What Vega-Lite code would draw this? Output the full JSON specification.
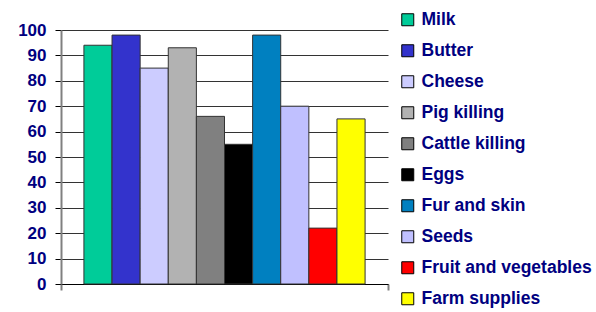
{
  "$schema": "https://vega.github.io/schema/vega-lite/v6.json",
  "autosize": "none",
  "width": 327,
  "height": 254,
  "padding": {"left": 61, "top": 30, "right": 208, "bottom": 28},
  "background": "white",
  "config": {
    "font": "Liberation Sans",
    "view": {"stroke": null}
  },
  "data": {
    "values": [
      {"group": "A", "category": "Milk", "value": 94},
      {"group": "A", "category": "Butter", "value": 98},
      {"group": "A", "category": "Cheese", "value": 85},
      {"group": "A", "category": "Pig killing", "value": 93},
      {"group": "A", "category": "Cattle killing", "value": 66},
      {"group": "A", "category": "Eggs", "value": 55},
      {"group": "A", "category": "Fur and skin", "value": 98},
      {"group": "A", "category": "Seeds", "value": 70},
      {"group": "A", "category": "Fruit and vegetables", "value": 22},
      {"group": "A", "category": "Farm supplies", "value": 65}
    ]
  },
  "mark": {"type": "bar", "stroke": "#333333", "strokeWidth": 1, "opacity": 1},
  "encoding": {
    "x": {
      "field": "group",
      "type": "nominal",
      "scale": {"paddingInner": 0, "paddingOuter": 0},
      "axis": {
        "title": null,
        "labels": false,
        "tickBand": "extent",
        "tickSize": 6,
        "tickColor": "#808080",
        "tickWidth": 2,
        "domainColor": "#000000",
        "domainWidth": 1
      }
    },
    "xOffset": {
      "field": "category",
      "type": "nominal",
      "sort": ["Milk", "Butter", "Cheese", "Pig killing", "Cattle killing", "Eggs", "Fur and skin", "Seeds", "Fruit and vegetables", "Farm supplies"],
      "scale": {"paddingInner": 0, "paddingOuter": 0.815}
    },
    "y": {
      "field": "value",
      "type": "quantitative",
      "scale": {"domain": [0, 100], "nice": false},
      "axis": {
        "title": null,
        "values": [0, 10, 20, 30, 40, 50, 60, 70, 80, 90, 100],
        "tickSize": 6,
        "tickColor": "#000000",
        "labelPadding": 9,
        "labelFont": "Liberation Sans",
        "labelFontWeight": "bold",
        "labelFontSize": 17,
        "labelColor": "#000080",
        "domainColor": "#808080",
        "domainWidth": 2,
        "grid": true,
        "gridColor": "#333333",
        "gridWidth": 1,
        "gridOpacity": 1
      }
    },
    "color": {
      "field": "category",
      "type": "nominal",
      "scale": {
        "domain": ["Milk", "Butter", "Cheese", "Pig killing", "Cattle killing", "Eggs", "Fur and skin", "Seeds", "Fruit and vegetables", "Farm supplies"],
        "range": ["#00CC99", "#3333CC", "#CCCCFF", "#B2B2B2", "#808080", "#000000", "#0080C0", "#C0C0FF", "#FF0000", "#FFFF00"]
      },
      "legend": {
        "title": null,
        "orient": "none",
        "legendX": 338,
        "legendY": -19,
        "padding": 0,
        "symbolType": "square",
        "symbolSize": 144,
        "symbolStrokeColor": "#000000",
        "symbolStrokeWidth": 1,
        "symbolOpacity": 1,
        "labelFont": "Liberation Sans",
        "labelFontWeight": "bold",
        "labelFontSize": 17.5,
        "labelColor": "#000080",
        "labelOffset": 5,
        "labelLimit": 300,
        "rowPadding": 12
      }
    }
  }
}
